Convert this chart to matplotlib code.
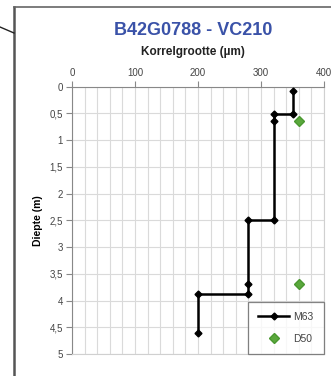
import matplotlib
matplotlib.use("Agg")
import matplotlib.pyplot as plt
from matplotlib.lines import Line2D
from matplotlib.ticker import MultipleLocator, FuncFormatter

plt.rcParams['font.family'] = ['Liberation Sans', 'DejaVu Sans']

# grain size (um) vs depth (m)
m63_size = [350, 350, 320, 320, 320, 280, 280, 280, 200, 200]
m63_depth = [0.08, 0.52, 0.52, 0.65, 2.5, 2.5, 3.7, 3.88, 3.88, 4.6]
d50_size = [360, 360]
d50_depth = [0.65, 3.7]

x_ticks = [0, 100, 200, 300, 400]
y_ticks = [0, 0.5, 1, 1.5, 2, 2.5, 3, 3.5, 4, 4.5, 5]

fig = plt.figure(figsize=(3.31, 3.76), dpi=100)
ax = fig.add_axes([0.2175, 0.0585, 0.7615, 0.7112])

ax.plot(m63_size, m63_depth, color='black', lw=1.8, marker='D', ms=3.5,
        label='M63', zorder=3)
ax.plot(d50_size, d50_depth, ls='none', marker='D', ms=5, color='#5aa83c',
        markeredgecolor='#4a9830', label='D50', zorder=3)

ax.set_xlim(0, 400)
ax.set_ylim(5, 0)
ax.xaxis.tick_top()
ax.set_xticks(x_ticks)
ax.xaxis.set_minor_locator(MultipleLocator(20))
ax.set_yticks(y_ticks)
ax.yaxis.set_major_formatter(FuncFormatter(lambda v, p: ('%g' % v).replace('.', ',')))
ax.tick_params(axis='both', which='major', labelsize=7, labelcolor='#444444',
               color='#888888', length=4, width=0.8, pad=2.5)
ax.tick_params(axis='x', which='minor', length=0)
ax.grid(True, which='both', color='#dadada', lw=0.8)
ax.set_axisbelow(True)

for s in ['left', 'top']:
    ax.spines[s].set_color('#888888')
for s in ['right', 'bottom']:
    ax.spines[s].set_color('#d0d0d0')

ax.set_ylabel('Diepte (m)', fontsize=7.5, fontweight='bold', labelpad=5)

leg = ax.legend(loc='lower right', fontsize=7.5, frameon=True, fancybox=False,
                edgecolor='#666666', borderaxespad=0, handlelength=3.0,
                handletextpad=0.4, labelspacing=1.1, borderpad=1.0,
                labelcolor='#444444')
leg.get_frame().set_linewidth(0.9)

fig.text(0.583, 0.92, 'B42G0788 - VC210', ha='center', va='center',
         fontsize=13, fontweight='bold', color='#3a52a8')
fig.text(0.583, 0.862, 'Korrelgrootte (\u00b5m)', ha='center', va='center',
         fontsize=8.5, fontweight='bold', color='#222222')

# surrounding frame and leader line
fig.add_artist(Line2D([14 / 331, 14 / 331], [0, 1 - 7 / 376], color='#555555', lw=1.8))
fig.add_artist(Line2D([14 / 331, 1], [1 - 7 / 376, 1 - 7 / 376], color='#666666', lw=1.2))
fig.add_artist(Line2D([0, 14 / 331], [1 - 27 / 376, 1 - 33 / 376], color='#222222', lw=1.0))

fig.savefig('out.png', dpi=100)
